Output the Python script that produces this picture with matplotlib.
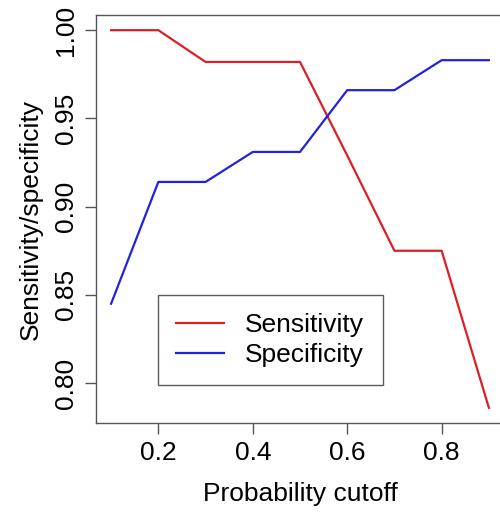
import matplotlib
matplotlib.use('Agg')
import matplotlib.pyplot as plt

plt.rcParams['font.family'] = ['Liberation Sans', 'DejaVu Sans']
plt.rcParams['font.size'] = 19

# data
cutoff = [0.1, 0.2, 0.3, 0.4, 0.5, 0.6, 0.7, 0.8, 0.9]
sensitivity = [1.000, 1.000, 0.982, 0.982, 0.982, 0.929, 0.875, 0.875, 0.786]
specificity = [0.845, 0.914, 0.914, 0.931, 0.931, 0.966, 0.966, 0.983, 0.983]
xticks = [0.2, 0.4, 0.6, 0.8]
yticks = [0.80, 0.85, 0.90, 0.95, 1.00]

fig = plt.figure(figsize=(5.0, 5.13), dpi=100)
# right spine sits just outside the picture, as in the original crop
ax = fig.add_axes([96 / 500, 1 - 423 / 513, 408 / 500, 408 / 513])

ax.plot(cutoff, sensitivity, color='#dc1f26', lw=1.6, label='Sensitivity')
ax.plot(cutoff, specificity, color='#2222dd', lw=1.6, label='Specificity')

ax.set_xlim(0.068, 0.932)
ax.set_ylim(0.7774, 1.0086)
ax.set_xticks(xticks)
ax.set_xticklabels(['%.1f' % t for t in xticks])
ax.set_yticks(yticks)
ax.set_yticklabels(['%.2f' % t for t in yticks], rotation=90, va='center')

for s in ax.spines.values():
    s.set_color('#555555')
    s.set_linewidth(1.0)
ax.tick_params(length=8, width=1.0, color='#555555', pad=5)

ax.set_xlabel('Probability cutoff', labelpad=12)
ax.set_ylabel('Sensitivity/specificity', labelpad=8)

leg = ax.legend(loc='upper left', bbox_to_anchor=(62 / 408, 1 - 280 / 408),
                frameon=True, fancybox=False, handlelength=1.8,
                handletextpad=0.8, borderpad=0.7, labelspacing=0.2,
                borderaxespad=0)
leg.get_frame().set_edgecolor('#333333')
leg.get_frame().set_linewidth(1.0)

fig.savefig('out.png', dpi=100)
